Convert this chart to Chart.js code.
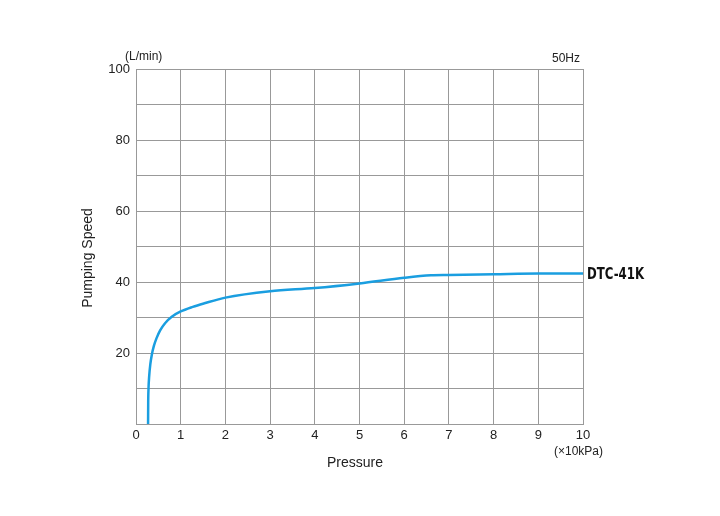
<html>
<head>
    <title>DTC-41K</title>
    <script src="https://cdn.jsdelivr.net/npm/chart.js"></script>
</head>
<style>
    body{ margin: 0; background: #fff; }
</style>
<body>
<div style="width:720px;height:516px;"><canvas id="chartCanvas"></canvas></div>
</body>

<script>
// pressure (x10kPa) and pumping speed (L/min)
const pressure = [0.270, 0.273, 0.28, 0.295, 0.32, 0.355, 0.40, 0.46, 0.54, 0.65, 0.80, 1.0, 1.27, 1.53, 2, 3, 4, 5, 6, 6.6, 7, 8, 9, 10];
const speed    = [0,     6,     10,   13.5,  16.8, 19.6,  22,   24.2, 26.4, 28.4, 30.2, 31.7, 33.0, 34.0, 35.6, 37.4, 38.3, 39.6, 41.2, 41.9, 42.0, 42.2, 42.4, 42.4];
const seriesName = 'DTC-41K';
const yLabels = [20, 40, 60, 80, 100];

const points = pressure.map((p, i) => ({ x: p, y: speed[i] }));
const font = 'Liberation Sans, Arial, sans-serif';

// extra text around the plot
const textPlugin = {
    id: 'texts',
    afterDraw(chart) {
        const ctx = chart.ctx;
        ctx.save();
        ctx.fillStyle = '#222';
        ctx.font = '12px ' + font;
        ctx.textBaseline = 'middle';
        ctx.textAlign = 'left';
        ctx.fillText('(L/min)', 125, 57);
        ctx.textAlign = 'right';
        ctx.fillText('50Hz', 580, 59);
        ctx.fillText('(×10kPa)', 603, 452);
        ctx.font = '14px ' + font;
        ctx.textAlign = 'center';
        ctx.fillText('Pressure', 355, 463);
        ctx.translate(88, 258);
        ctx.rotate(-Math.PI / 2);
        ctx.fillText('Pumping Speed', 0, 0);
        ctx.restore();

        // series label at the end of the curve
        const last = points[points.length - 1];
        ctx.save();
        ctx.fillStyle = '#111';
        ctx.font = 'bold 15px "DejaVu Sans Condensed", "DejaVu Sans", sans-serif';
        ctx.textBaseline = 'middle';
        ctx.textAlign = 'left';
        ctx.translate(chart.scales.x.getPixelForValue(last.x) + 4,
                      chart.scales.y.getPixelForValue(last.y) + 2);
        ctx.scale(0.87, 1);
        ctx.fillText(seriesName, 0, 0);
        ctx.restore();
    }
};

new Chart(document.getElementById('chartCanvas'), {
    type: 'scatter',
    data: {
        datasets: [{
            label: seriesName,
            data: points,
            showLine: true,
            borderColor: '#1a9ee0',
            borderWidth: 2.5,
            pointRadius: 0,
            cubicInterpolationMode: 'monotone'
        }]
    },
    options: {
        responsive: true,
        maintainAspectRatio: false,
        animation: false,
        layout: { padding: { left: 0, top: 69, right: 137, bottom: 70 } },
        plugins: { legend: { display: false }, tooltip: { enabled: false } },
        scales: {
            x: {
                min: 0, max: 10,
                ticks: { stepSize: 1, color: '#222', font: { family: font, size: 13 }, padding: 4, maxRotation: 0 },
                grid: { color: '#999', drawTicks: false },
                border: { color: '#999' },
                afterFit: s => { s.height = 22; }
            },
            y: {
                min: 0, max: 100,
                ticks: {
                    stepSize: 10, color: '#222', font: { family: font, size: 13 }, padding: 6,
                    callback: v => yLabels.includes(v) ? v : ''
                },
                grid: { color: '#999', drawTicks: false },
                border: { color: '#999' },
                afterFit: s => { s.width = 136; }
            }
        }
    },
    plugins: [textPlugin]
});
</script>
</html>
